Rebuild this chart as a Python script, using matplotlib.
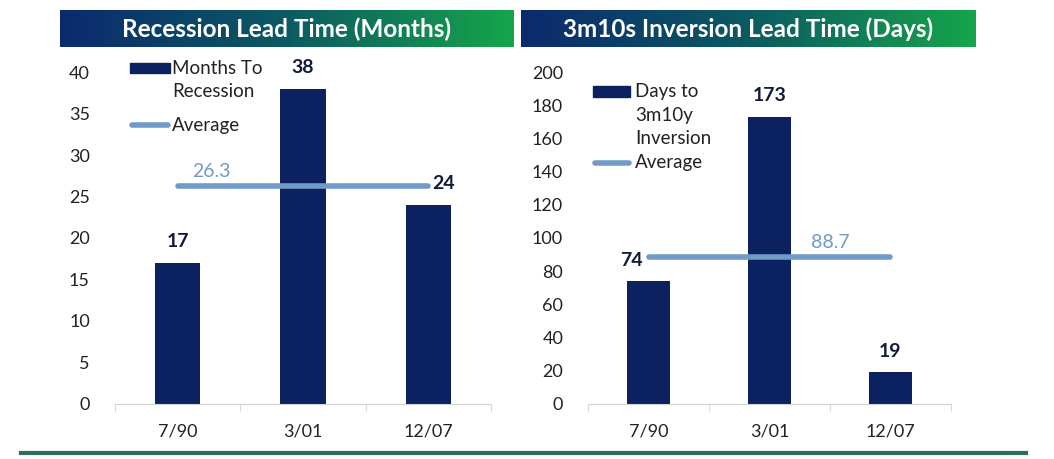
import matplotlib.pyplot as plt
import numpy as np
from matplotlib.colors import LinearSegmentedColormap
from matplotlib.patches import Rectangle

plt.rcParams['font.family'] = ['Lato', 'DejaVu Sans']

# data
categories = ['7/90', '3/01', '12/07']
months_to_recession = [17, 38, 24]
months_avg = 26.3
days_to_inversion = [74, 173, 19]
days_avg = 88.7

left_title = 'Recession Lead Time (Months)'
right_title = '3m10s Inversion Lead Time (Days)'

bar_color = '#0c2260'
avg_color = '#6f9bc6'
label_color = '#111a3a'
text_color = '#222222'

fig = plt.figure(figsize=(10.54, 4.59), dpi=100)


def banner(rect, text):
    ax = fig.add_axes(rect)
    grad = np.linspace(0, 1, 256).reshape(1, -1)
    cmap = LinearSegmentedColormap.from_list('bn', ['#0b2a6e', '#0c5a62', '#16a54b'])
    ax.imshow(grad, aspect='auto', cmap=cmap, extent=[0, 1, 0, 1])
    ax.text(0.5, 0.47, text, color='white', fontsize=17.5, fontweight='bold',
            ha='center', va='center', transform=ax.transAxes)
    ax.set_axis_off()


def panel(rect, values, avg, ymax, ystep, avg_label_pos, avg_shift, label_shift):
    ax = fig.add_axes(rect)
    x = np.arange(len(categories))
    ax.bar(x, values, width=0.36, color=bar_color, zorder=2)
    ax.plot([x[0], x[-1]], [avg, avg], color=avg_color, lw=4,
            solid_capstyle='round', zorder=3)
    for i, v in enumerate(values):
        ax.annotate(str(v), (x[i], v), xytext=(label_shift.get(i, 0), 9),
                    textcoords='offset points', ha='center', va='bottom',
                    fontsize=14, fontweight='bold', color=label_color)
    ax.annotate('{:.1f}'.format(avg), (avg_label_pos, avg), xytext=(avg_shift, 4),
                textcoords='offset points', ha='center', va='bottom',
                fontsize=14, color=avg_color)
    ax.set_xlim(-0.5, len(categories) - 0.5)
    ax.set_ylim(0, ymax)
    ax.set_yticks(np.arange(0, ymax + 1, ystep))
    ax.set_xticks(x)
    ax.set_xticklabels(categories)
    ax.set_xticks(np.arange(-0.5, len(categories)), minor=True)
    ax.tick_params(axis='y', length=0, labelsize=13, pad=18, labelcolor=text_color)
    ax.tick_params(axis='x', which='major', length=0, labelsize=13, pad=14,
                   labelcolor=text_color)
    ax.tick_params(axis='x', which='minor', length=5, color='#d0d0d0')
    for s in ['top', 'right', 'left']:
        ax.spines[s].set_visible(False)
    ax.spines['bottom'].set_color('#d0d0d0')
    return ax


def legend(ax, bar_label, patch_box, text_x, text_top, avg_y, line_x):
    x0, x1, y0, y1 = patch_box
    ax.add_patch(Rectangle((x0, y0), x1 - x0, y1 - y0, color=bar_color,
                           transform=ax.transAxes, clip_on=False))
    ax.text(text_x, text_top, bar_label, transform=ax.transAxes, ha='left', va='top',
            fontsize=13.5, linespacing=1.45, color=text_color)
    ax.plot(line_x, [avg_y, avg_y], color=avg_color, lw=4, solid_capstyle='round',
            transform=ax.transAxes, clip_on=False)
    ax.text(text_x, avg_y, 'Average', transform=ax.transAxes, ha='left',
            va='center', fontsize=13.5, color=text_color)


ax1 = panel([0.109, 0.120, 0.357, 0.723], months_to_recession, months_avg, 40, 5,
            0.0, 24, {2: 11})
legend(ax1, 'Months To\nRecession', (0.040, 0.146, 0.997, 1.027), 0.152, 1.036,
       0.84, [0.045, 0.142])

ax2 = panel([0.558, 0.120, 0.344, 0.723], days_to_inversion, days_avg, 200, 20,
            1.5, 0, {0: -12})
legend(ax2, 'Days to\n3m10y\nInversion', (0.014, 0.116, 0.925, 0.958), 0.130, 0.966,
       0.726, [0.02, 0.112])

banner([0.057, 0.898, 0.430, 0.081], left_title)
banner([0.494, 0.898, 0.431, 0.081], right_title)

# green rule at the bottom
fig.add_artist(plt.Line2D([0.02, 0.973], [0.013, 0.013], color='#2d6e5c', lw=3))

fig.savefig('out.png', dpi=100, facecolor='white')
